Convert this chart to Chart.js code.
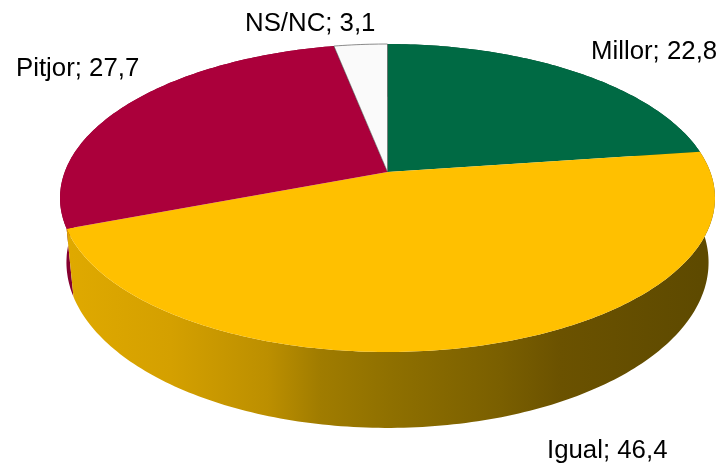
<!DOCTYPE html>
<html>
<head>
<meta charset="utf-8">
<title>Pie</title>
<script src="https://cdn.jsdelivr.net/npm/chart.js@4"></script>
<style>
  html, body { margin: 0; padding: 0; background: #fff; }
  canvas { display: block; }
</style>
</head>
<body>
<canvas id="pie" width="723" height="466"></canvas>
<script>
const categories = ["Millor", "Igual", "Pitjor", "NS/NC"];
const values = [22.8, 46.4, 27.7, 3.1];
const sliceColors = ["#006A44", "#FFC000", "#AB003B", "#FAFAFA"];
const wallColors = ["#004A30", "#6A5200", "#850030", "#CCCCCC"];

// where the text of each label starts (x, baseline)
const labelSpots = [[591, 59], [547, 458], [16, 76], [245, 31]];

// perspective of the two faces, in pie radii
const topFace = { w: 2.096, a0: -0.1688, a1: 1.0, c: -0.1688 };
const bottomFace = { w: 2.058, a0: 0.246, a1: 1.008, c: -0.16 };

function project(arc, face, angle) {
  const u = Math.cos(angle);
  const v = Math.sin(angle);
  const k = 1 + face.c * v;
  return {
    x: arc.x + (arc.outerRadius * face.w * u) / k,
    y: arc.y + (arc.outerRadius * (face.a0 + face.a1 * v)) / k,
  };
}

function stepsFor(arc) {
  return Math.max(4, Math.ceil((arc.endAngle - arc.startAngle) * 60));
}

function drawWall(ctx, arc, color) {
  const steps = stepsFor(arc);
  const da = (arc.endAngle - arc.startAngle) / steps;
  ctx.beginPath();
  for (let i = 0; i < steps; i++) {
    const a = arc.startAngle + i * da;
    const p1 = project(arc, topFace, a);
    const p2 = project(arc, topFace, a + da);
    const p3 = project(arc, bottomFace, a + da);
    const p4 = project(arc, bottomFace, a);
    ctx.moveTo(p1.x, p1.y);
    ctx.lineTo(p2.x, p2.y);
    ctx.lineTo(p3.x, p3.y);
    ctx.lineTo(p4.x, p4.y);
    ctx.closePath();
  }
  ctx.fillStyle = color;
  ctx.fill();
}

function topPath(ctx, arc) {
  const steps = stepsFor(arc);
  const da = (arc.endAngle - arc.startAngle) / steps;
  ctx.beginPath();
  ctx.moveTo(arc.x, arc.y + arc.outerRadius * topFace.a0);
  for (let i = 0; i <= steps; i++) {
    const p = project(arc, topFace, arc.startAngle + i * da);
    ctx.lineTo(p.x, p.y);
  }
  ctx.closePath();
}

const pie3d = {
  id: "pie3d",
  beforeDatasetsDraw(chart) {
    const ctx = chart.ctx;
    const arcs = chart.getDatasetMeta(0).data;
    const order = arcs
      .map((arc, i) => ({ arc, i, mid: Math.sin((arc.startAngle + arc.endAngle) / 2) }))
      .sort((a, b) => a.mid - b.mid);

    ctx.save();
    order.forEach(({ arc, i }) => {
      let color = wallColors[i];
      if (categories[i] === "Igual") {
        // the front wall goes from lit on the left to dark on the right
        const g = ctx.createLinearGradient(70, 0, 700, 0);
        g.addColorStop(0, "#DFA900");
        g.addColorStop(0.16, "#D4A000");
        g.addColorStop(0.314, "#BC8F00");
        g.addColorStop(0.397, "#A07C00");
        g.addColorStop(0.508, "#8F7000");
        g.addColorStop(0.683, "#7A5F00");
        g.addColorStop(0.778, "#6B5200");
        g.addColorStop(1, "#5E4A00");
        color = g;
      }
      drawWall(ctx, arc, color);
    });

    arcs.forEach((arc, i) => {
      topPath(ctx, arc);
      ctx.fillStyle = sliceColors[i];
      ctx.fill();
      if (categories[i] === "NS/NC") {
        ctx.strokeStyle = "rgba(60,60,60,0.7)";
        ctx.lineWidth = 0.8;
        ctx.stroke();
      }
    });
    ctx.restore();
    return false;
  },
  afterDraw(chart) {
    const ctx = chart.ctx;
    ctx.save();
    ctx.fillStyle = "#000";
    ctx.font = '25.8px "Liberation Sans", Arial, sans-serif';
    ctx.textBaseline = "alphabetic";
    categories.forEach((name, i) => {
      const text = name + "; " + String(values[i]).replace(".", ",");
      ctx.fillText(text, labelSpots[i][0], labelSpots[i][1]);
    });
    ctx.restore();
  },
};

new Chart(document.getElementById("pie"), {
  type: "pie",
  data: {
    labels: categories,
    datasets: [{ data: values, backgroundColor: sliceColors, borderWidth: 0 }],
  },
  options: {
    responsive: false,
    animation: false,
    layout: { padding: { left: 233.5, right: 181.5, top: 44, bottom: 114 } },
    plugins: { legend: { display: false }, tooltip: { enabled: false } },
  },
  plugins: [pie3d],
});
</script>
</body>
</html>
